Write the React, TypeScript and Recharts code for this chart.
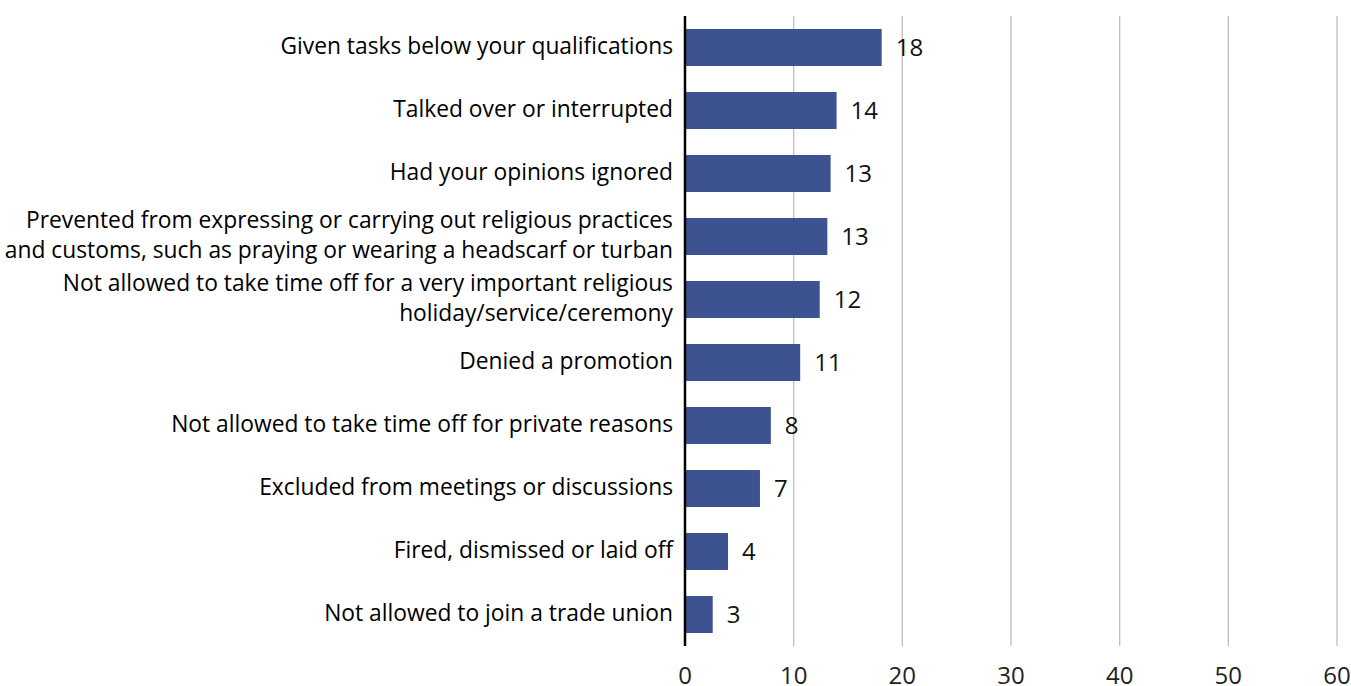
import { BarChart, Bar, XAxis, YAxis, CartesianGrid, LabelList } from 'recharts';

const categories = [
  'Given tasks below your qualifications',
  'Talked over or interrupted',
  'Had your opinions ignored',
  'Prevented from expressing or carrying out religious practices\nand customs, such as praying or wearing a headscarf or turban',
  'Not allowed to take time off for a very important religious\nholiday/service/ceremony',
  'Denied a promotion',
  'Not allowed to take time off for private reasons',
  'Excluded from meetings or discussions',
  'Fired, dismissed or laid off',
  'Not allowed to join a trade union',
];

const shares = [18.1, 13.95, 13.4, 13.1, 12.4, 10.6, 7.9, 6.9, 3.96, 2.55];

const xTicks = [0, 10, 20, 30, 40, 50, 60];

const data = categories.map((name, i) => ({ name, value: shares[i] }));

const FONT = '"Open Sans", "Noto Sans", sans-serif';

function CategoryTick({ x, y, payload }: any) {
  const lines = String(payload.value).split('\n');
  const lineH = 30;
  const startY = y - ((lines.length - 1) * lineH) / 2 - 3;
  return (
    <text
      x={x - 4}
      y={startY}
      textAnchor="end"
      dominantBaseline="central"
      fill="#000"
      fontSize={22.8}
      fontFamily={FONT}
    >
      {lines.map((l, i) => (
        <tspan key={i} x={x - 4} y={startY + i * lineH}>
          {l}
        </tspan>
      ))}
    </text>
  );
}

export default function App() {
  return (
    <div style={{ position: 'absolute', left: 0, top: 0, background: '#fff' }}>
      <BarChart
        width={1351}
        height={686}
        data={data}
        layout="vertical"
        margin={{ top: 16, right: 14, bottom: 0, left: 0 }}
        barCategoryGap={13}
      >
        <CartesianGrid horizontal={false} vertical stroke="#bfbfbf" strokeWidth={1.3} />
        <XAxis
          type="number"
          domain={[0, 60]}
          ticks={xTicks}
          axisLine={false}
          tickLine={false}
          height={40}
          tick={{ fill: '#222', fontSize: 24, fontFamily: FONT }}
          tickMargin={15}
        />
        <YAxis
          type="category"
          dataKey="name"
          width={685}
          axisLine={{ stroke: '#000', strokeWidth: 2.5 }}
          tickLine={false}
          tick={<CategoryTick />}
          interval={0}
        />
        <Bar dataKey="value" fill="#3D5291" barSize={37} isAnimationActive={false}>
          <LabelList
            dataKey="value"
            position="right"
            offset={14}
            formatter={(v: any) => Math.round(Number(v))}
            fill="#111"
            fontSize={24}
            fontFamily={FONT}
          />
        </Bar>
      </BarChart>
    </div>
  );
}
